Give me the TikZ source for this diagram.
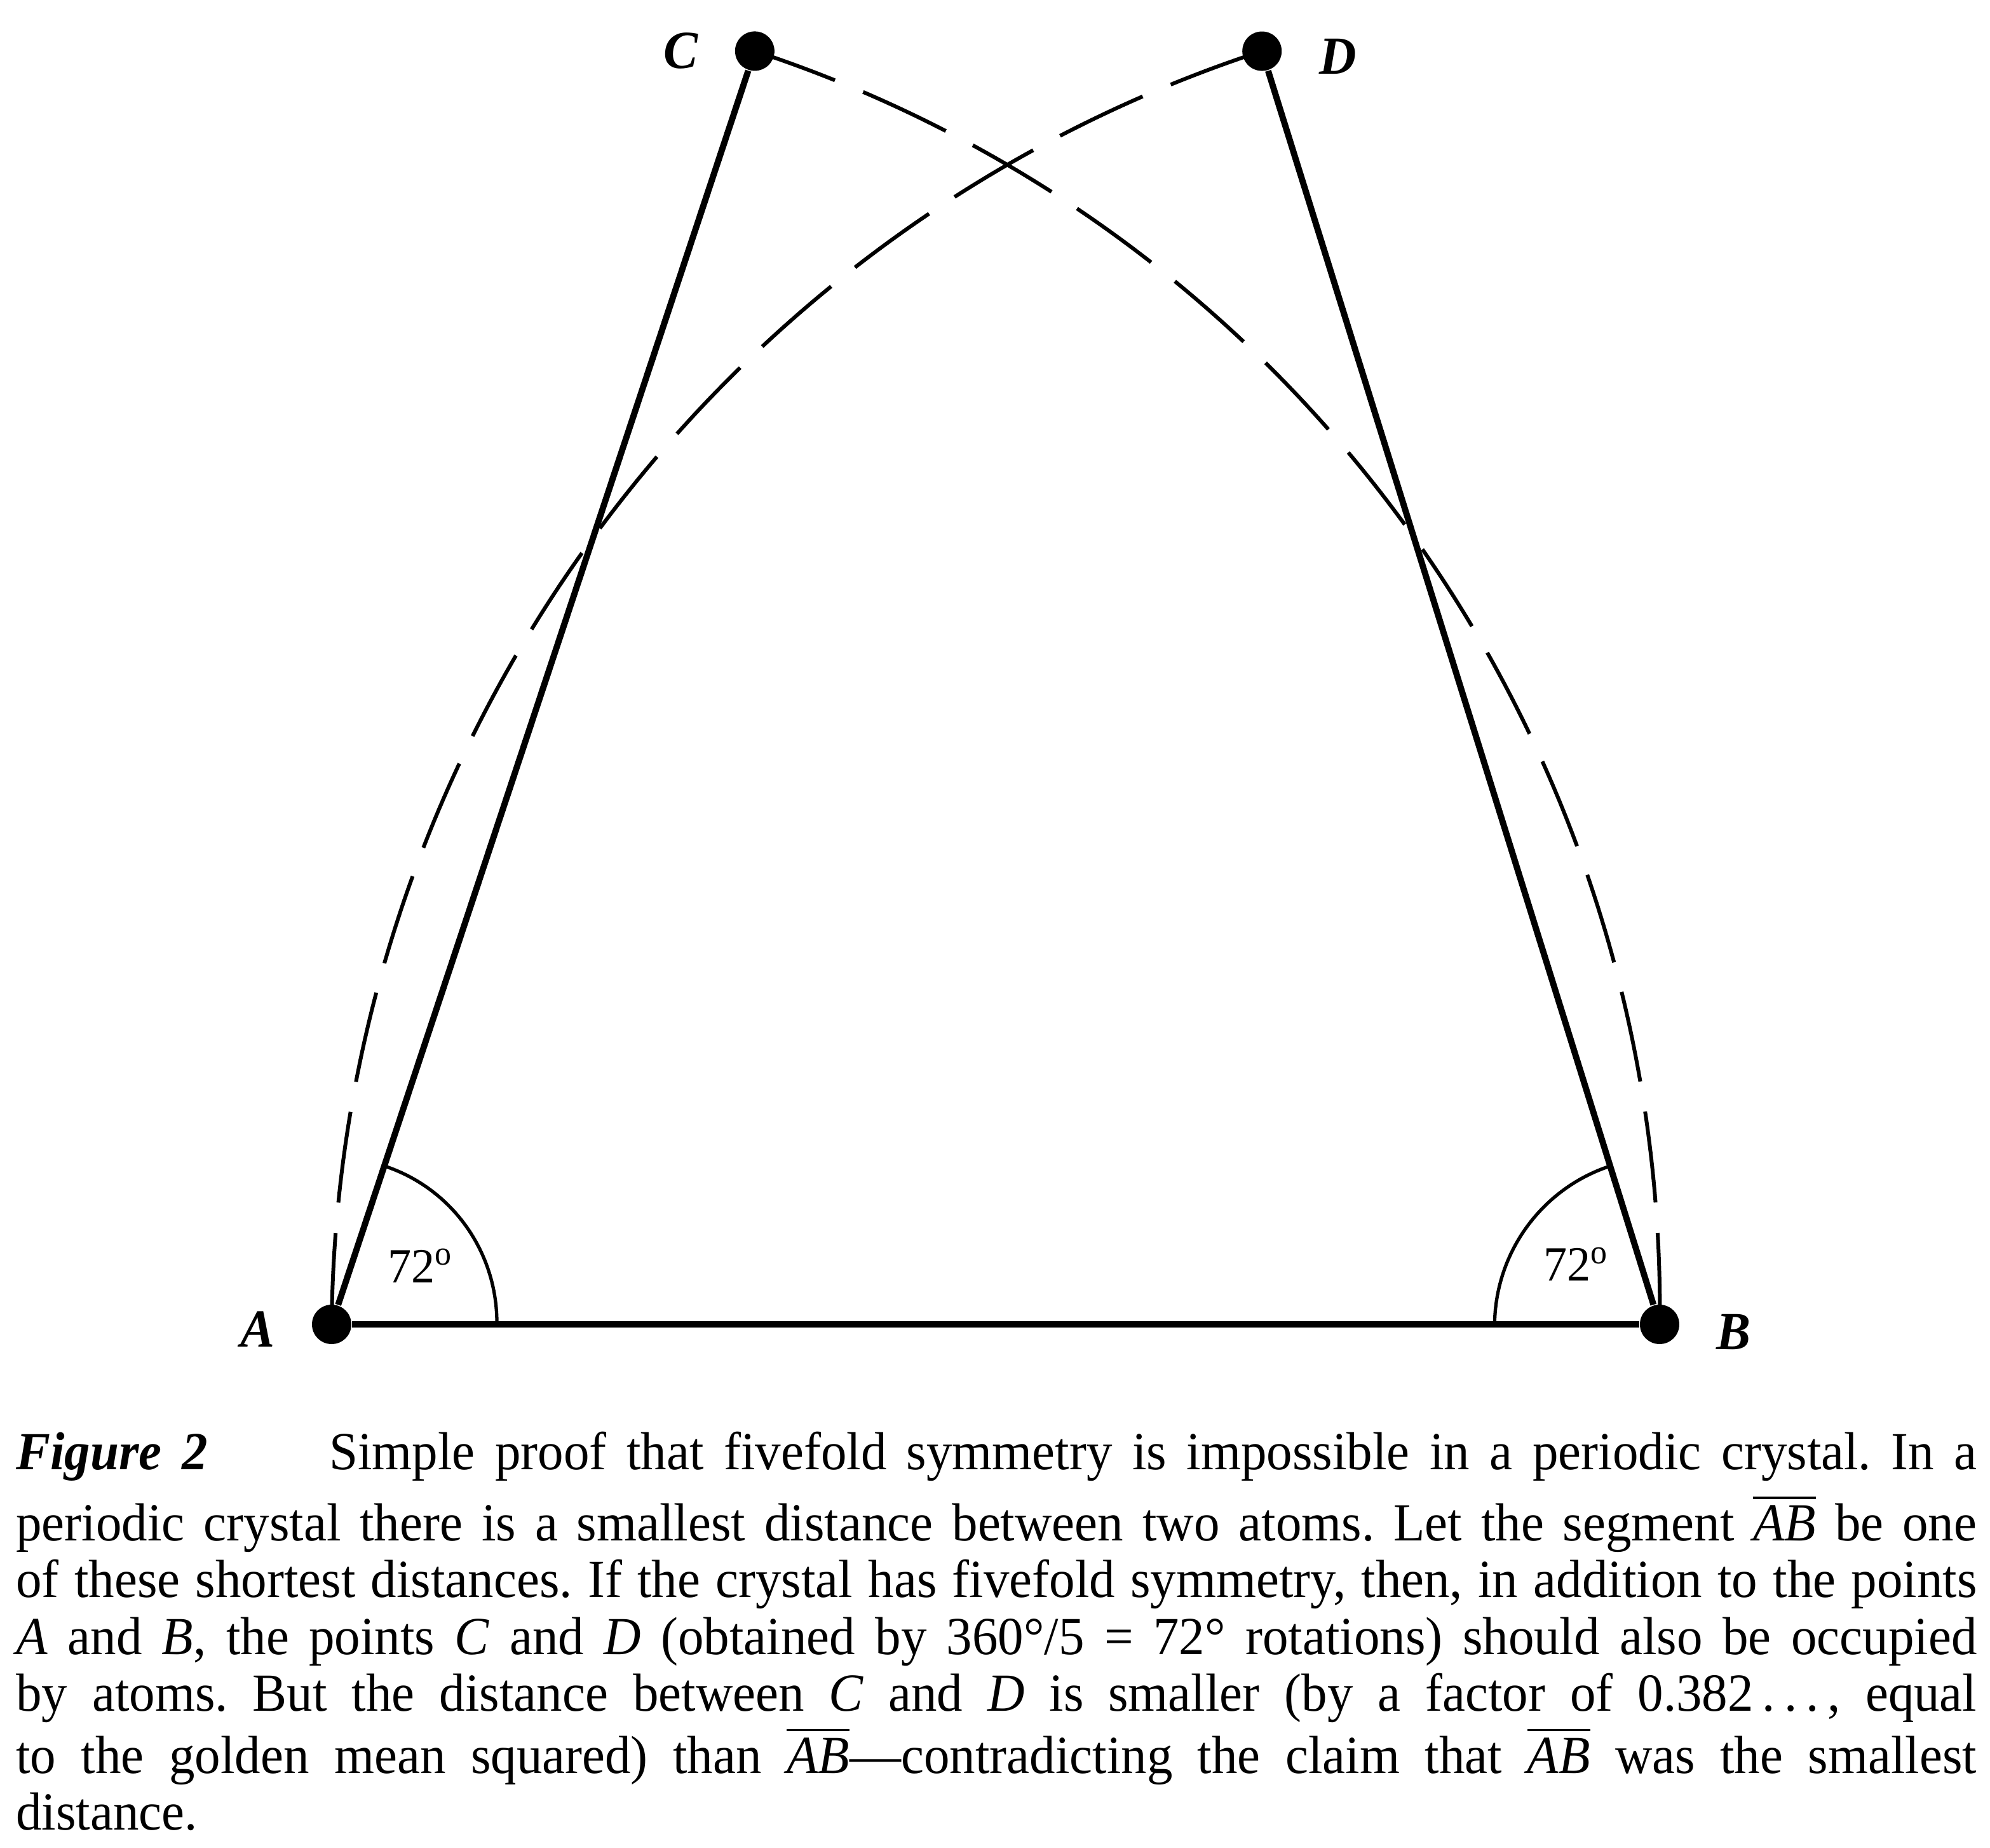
\documentclass[tikz,border=0pt]{standalone}
\usepackage{amsmath}
\usepackage{fontspec}
\setmainfont[FakeStretch=0.96]{Liberation Serif}
\usetikzlibrary{positioning}
\begin{document}
\begin{tikzpicture}[
    dashline/.style={line width=0.85pt, dash pattern=on 0.72cm off 0.24cm},
    anglearc/.style={line width=0.75pt},
    ptlabel/.style={font=\fontsize{12}{14}\selectfont\bfseries\itshape, inner sep=0},
    anglabel/.style={font=\fontsize{11}{12}\selectfont, inner sep=0}]
        \useasboundingbox (0,0) rectangle (15.66,-14.54);
        \begin{scope}[shift={(2.61,-10.42)}, xslant=0.01, yscale=1.008]
                \begin{scope}[every node/.style={circle, fill, inner sep=0, minimum size=0.31cm}]
                        \node (A) at (0,0) {};
                        \node (B) at (10.45,0) {};
                        \node (C) at (72:10.45) {};
                        \node (D) at (7.221,9.938) {};
                \end{scope}
                % circles of radius AB round B and round A
                \draw[dashline] (A) arc[start angle=180, end angle=108, radius=10.45];
                \draw[dashline] (B) arc[start angle=0, end angle=72, radius=10.45];
                % angle marks
                \draw[anglearc] (A) ++(1.3,0) arc[start angle=0, end angle=72, radius=1.3];
                \draw[anglearc] (B) ++(-1.3,0) arc[start angle=180, end angle=108, radius=1.3];
                \node[anglabel] (angA) at (0.70,0.46) {72$^{\mathrm{o}}$};
                \node[anglabel] (angB) at (9.795,0.47) {72$^{\mathrm{o}}$};
        \end{scope}
        \begin{scope}[every path/.style={line width=1.4pt}]
                \path (A) edge (B);
                \path (A) edge (C);
                \path (B) edge (D);
        \end{scope}
        \node[ptlabel, left=0.28cm of C] (lC) {C};
        \node[ptlabel, right=0.28cm of D, yshift=-0.04cm] (lD) {D};
        \node[ptlabel, left=0.28cm of A, yshift=-0.04cm] (lA) {A};
        \node[ptlabel, right=0.28cm of B, yshift=-0.06cm] (lB) {B};
        \node[anchor=north west, text width=15.43cm, inner sep=0, align=justify,
              font=\fontsize{12}{12.7}\selectfont] (cap) at (0.12,-11.26) {\noindent\frenchspacing
                \textbf{\textit{Figure 2}}\hspace{0.8cm} Simple proof that fivefold symmetry is impossible in a periodic crystal. In a\vadjust{\vskip 2pt}\linebreak
                periodic crystal there is a smallest distance between two atoms. Let the segment $\overline{\textit{AB}}$ be one\linebreak
                of these shortest distances. If the crystal has fivefold symmetry, then, in addition to the points\linebreak
                \textit{A} and \textit{B}, the points \textit{C} and \textit{D} (obtained by 360°/5 = 72° rotations) should also be occupied\linebreak
                by atoms. But the distance between \textit{C} and \textit{D} is smaller (by a factor of 0.382\,.\,.\,.\,, equal\linebreak
                to the golden mean squared) than $\overline{\textit{AB}}$---contradicting the claim that $\overline{\textit{AB}}$ was the smallest\linebreak
                distance.};
\end{tikzpicture}
\end{document}
